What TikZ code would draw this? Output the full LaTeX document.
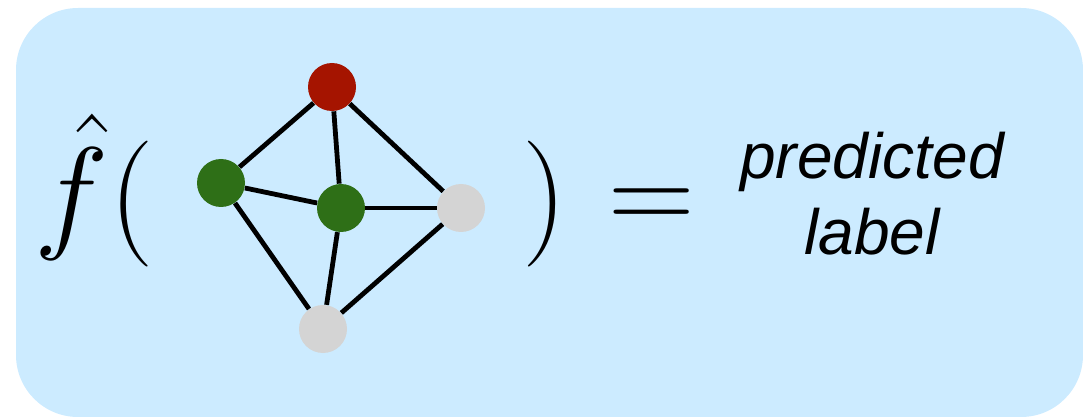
\RequirePackage{fix-cm}
\documentclass[tikz,border=0pt]{standalone}
\usepackage{fontspec}
\newfontfamily\labelfont{Liberation Sans}
\usetikzlibrary{positioning}

\definecolor{boxblue}{HTML}{CCEBFF}
\definecolor{nodered}{HTML}{A51400}
\definecolor{nodegreen}{HTML}{2E6F17}
\definecolor{nodegray}{HTML}{D4D4D4}

\begin{document}
\begin{tikzpicture}[
  x=0.5pt, y=-0.5pt,
  vtx/.style={
    circle,
    minimum size=24pt,
    inner sep=0pt,
  },
  link/.style={line width=2.4pt, draw=black},
  bigmath/.style={inner sep=0pt, anchor=base, font=\fontsize{63pt}{70pt}\selectfont},
]

  \useasboundingbox (0,0) rectangle (1083,417);
  \fill[boxblue, rounded corners=31pt] (16,8) rectangle (1083,417);

  % --- Left: estimator and brackets ---
  \node[bigmath] (fhat) at (72,235) {$\hat{f}$};
  \node[bigmath] (lpar) at (132,235) {$($};
  \node[bigmath] (rpar) at (545,235) {$)$};

  % --- The input graph ---
  \node[vtx, fill=nodered] (top) at (332,87) {};
  \node[vtx, fill=nodegreen] (gl) at (221,183) {};
  \node[vtx, fill=nodegreen] (gc) at (341,208) {};
  \node[vtx, fill=nodegray] (gr) at (461,208) {};
  \node[vtx, fill=nodegray] (bot) at (323,329) {};

  \foreach \a/\b in {top/gl, top/gc, top/gr, gl/gc, gl/bot, gc/gr, gc/bot, gr/bot} {
    \draw[link] (\a) -- (\b);
  }

  % --- Right: output ---
  \node[bigmath, font=\fontsize{60pt}{66pt}\selectfont] (eq) at (652,232) {$=$};
  \node[anchor=base, align=center, inner sep=0pt,
        font=\labelfont\itshape\fontsize{32pt}{38.5pt}\selectfont] (pred) at (872,255) {predicted\\label};

\end{tikzpicture}
\end{document}
